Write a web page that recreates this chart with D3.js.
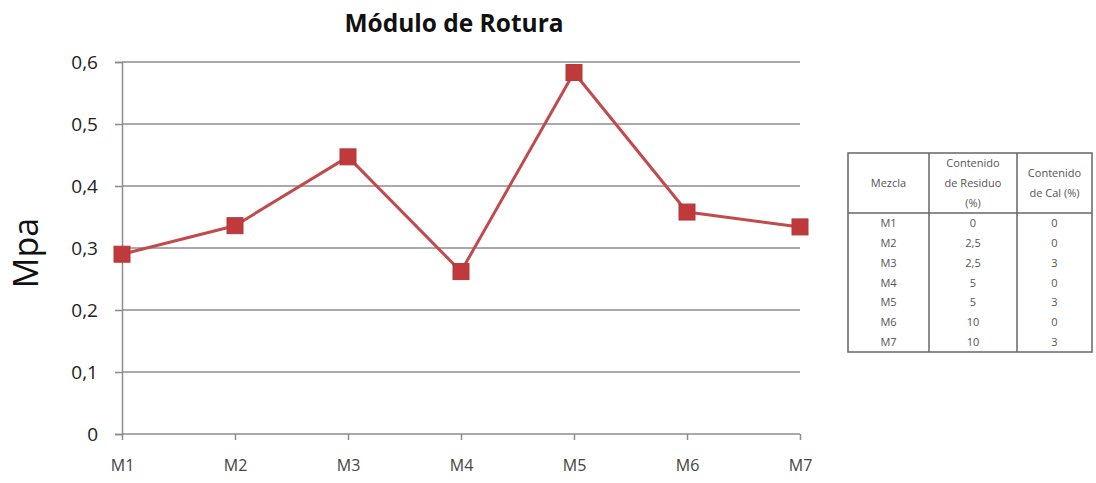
<!DOCTYPE html>
<html>
<head>
<meta charset="utf-8">
<script src="https://cdn.jsdelivr.net/npm/d3@7"></script>
<style>
  html, body { margin: 0; padding: 0; background: #fff; }
  svg { display: block; }
</style>
</head>
<body>
<svg id="chart" width="1096" height="483"></svg>
<script>
// Mix labels and measured rupture modulus (MPa)
const mezclas = ["M1", "M2", "M3", "M4", "M5", "M6", "M7"];
const modulo = [0.290, 0.336, 0.447, 0.262, 0.583, 0.358, 0.334];
const yTicks = [0, 0.1, 0.2, 0.3, 0.4, 0.5, 0.6];

// Mix composition table
const tablaHeader = [["Mezcla"], ["Contenido", "de Residuo", "(%)"], ["Contenido", "de Cal (%)"]];
const residuo = ["0", "2,5", "2,5", "5", "5", "10", "10"];
const cal = ["0", "0", "3", "0", "3", "0", "3"];

const svg = d3.select("#chart");
const font = "'Open Sans', 'Liberation Sans', sans-serif";

const plotL = 122, plotR = 800, plotT = 62, plotB = 434;

const x = d3.scalePoint().domain(mezclas).range([plotL, plotR]);
const y = d3.scaleLinear().domain([0, 0.6]).range([plotB, plotT]);
const fmt = d => d === 0 ? "0" : d3.format(".1f")(d).replace(".", ",");

// horizontal gridlines
svg.append("g").selectAll("line").data(yTicks.filter(d => d > 0)).join("line")
  .attr("x1", plotL).attr("x2", plotR)
  .attr("y1", d => y(d)).attr("y2", d => y(d))
  .attr("stroke", "#8c8c8c").attr("stroke-width", 1.5);

// y axis
const yAxis = svg.append("g").attr("transform", `translate(${plotL},0)`)
  .call(d3.axisLeft(y).tickValues(yTicks).tickFormat(fmt).tickSize(7).tickPadding(17));
yAxis.select(".domain").attr("stroke", "#8c8c8c").attr("stroke-width", 1.5);
yAxis.selectAll(".tick line").attr("stroke", "#8c8c8c").attr("stroke-width", 1.5);
yAxis.selectAll("text").attr("font-family", font).attr("font-size", 19).attr("fill", "#222");

// x axis
const xAxis = svg.append("g").attr("transform", `translate(0,${plotB})`)
  .call(d3.axisBottom(x).tickSize(6).tickPadding(20));
xAxis.select(".domain").attr("stroke", "#8c8c8c").attr("stroke-width", 1.5)
  .attr("d", `M${plotL},0H${plotR}`);
xAxis.selectAll(".tick line").attr("stroke", "#8c8c8c").attr("stroke-width", 1.5);
xAxis.selectAll("text").attr("font-family", font).attr("font-size", 16).attr("fill", "#444");

// title
svg.append("text").attr("x", 454).attr("y", 32).attr("text-anchor", "middle")
  .attr("font-family", font).attr("font-weight", "bold").attr("font-size", 24.5)
  .attr("fill", "#111").text("Módulo de Rotura");

// y axis title
svg.append("text").attr("transform", "translate(38,253) rotate(-90)")
  .attr("text-anchor", "middle").attr("font-family", font).attr("font-size", 34)
  .attr("fill", "#111").text("Mpa");

// series line
const line = d3.line().x((d, i) => x(mezclas[i])).y(d => y(d));
svg.append("path").datum(modulo).attr("d", line)
  .attr("fill", "none").attr("stroke", "#c24a4c").attr("stroke-width", 3)
  .attr("stroke-linejoin", "round");

// square markers
const ms = 16;
svg.append("g").selectAll("rect").data(modulo).join("rect")
  .attr("x", (d, i) => x(mezclas[i]) - ms / 2)
  .attr("y", d => y(d) - ms / 2)
  .attr("width", ms).attr("height", ms)
  .attr("fill", "#c0393b").attr("stroke", "#b03a3c").attr("stroke-width", 1);

// composition table
const tx = [848, 929, 1017, 1092];
const tTop = 153, tHead = 213, tBot = 352;
const rowH = (tBot - tHead) / mezclas.length;
const tg = svg.append("g");
const tc = "#555", tf = 11;
tg.append("rect").attr("x", tx[0]).attr("y", tTop).attr("width", tx[3] - tx[0]).attr("height", tBot - tTop)
  .attr("fill", "#fff").attr("stroke", "#666").attr("stroke-width", 1.5);
[tx[1], tx[2]].forEach(v => tg.append("line").attr("x1", v).attr("x2", v).attr("y1", tTop).attr("y2", tBot)
  .attr("stroke", "#666").attr("stroke-width", 1.5));
tg.append("line").attr("x1", tx[0]).attr("x2", tx[3]).attr("y1", tHead).attr("y2", tHead)
  .attr("stroke", "#666").attr("stroke-width", 1.5);

tablaHeader.forEach((lines, c) => {
  const cx = (tx[c] + tx[c + 1]) / 2;
  const lh = 20;
  const y0 = (tTop + tHead) / 2 - (lines.length - 1) * lh / 2 + 4;
  lines.forEach((t, k) => tg.append("text").attr("x", cx).attr("y", y0 + k * lh)
    .attr("text-anchor", "middle").attr("font-family", font).attr("font-size", tf)
    .attr("fill", tc).text(t));
});
const cols = [mezclas, residuo, cal];
cols.forEach((col, c) => {
  const cx = (tx[c] + tx[c + 1]) / 2;
  tg.append("g").selectAll("text").data(col).join("text")
    .attr("x", cx).attr("y", (d, i) => tHead + rowH * (i + 0.5) + 4)
    .attr("text-anchor", "middle").attr("font-family", font).attr("font-size", tf)
    .attr("fill", tc).text(d => d);
});
</script>
</body>
</html>
